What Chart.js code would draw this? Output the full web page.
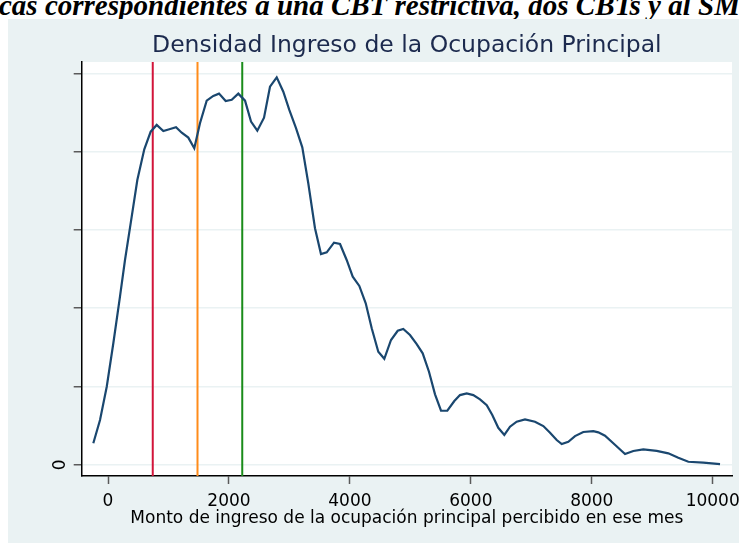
<!DOCTYPE html>
<html>
<head>
<meta charset="utf-8">
<script src="https://cdn.jsdelivr.net/npm/chart.js@4.4.1/dist/chart.umd.min.js"></script>
<style>
  html, body { margin: 0; padding: 0; background: #fff; width: 739px; height: 543px; overflow: hidden; position: relative; }
  #cap { position: absolute; left: -1px; top: -9px; color: #000; white-space: nowrap;
         font: italic bold 29px "Liberation Serif", "Times New Roman", serif; line-height: 29px; }
  #box { position: absolute; left: 8px; top: 19px; width: 731px; height: 524px; background: #eaf2f3; }
</style>
</head>
<body>
<div id="cap">cas correspondientes a una CBT restrictiva, dos CBTs y al SM</div>
<div id="box"><canvas id="c"></canvas></div>
<script>
// ingreso de la ocupacion principal (x) y densidad estimada (en 1e-5)
var ingreso = [-243, -132, -21, 88, 198, 281, 392, 485, 600, 706,
  805, 915, 1014, 1125, 1219, 1328, 1427, 1521, 1632, 1741,
  1836, 1946, 2046, 2155, 2266, 2365, 2469, 2580, 2679, 2790,
  2899, 2998, 3109, 3213, 3312, 3423, 3522, 3617, 3737, 3837,
  3947, 4047, 4156, 4262, 4361, 4470, 4569, 4680, 4791, 4883,
  4994, 5105, 5204, 5308, 5408, 5507, 5611, 5727, 5821, 5932,
  6041, 6152, 6263, 6355, 6454, 6554, 6648, 6758, 6896, 7061,
  7199, 7310, 7420, 7503, 7612, 7723, 7860, 8026, 8108, 8219,
  8356, 8550, 8687, 8852, 9074, 9266, 9431, 9597, 9845, 10121];
var densidad = [1.37, 2.86, 4.98, 7.76, 10.74, 13.08, 15.85, 18.19, 20.15, 21.28,
  21.71, 21.32, 21.43, 21.56, 21.21, 20.90, 20.22, 21.82, 23.26, 23.56,
  23.71, 23.24, 23.32, 23.71, 23.26, 21.92, 21.34, 22.17, 24.15, 24.75,
  23.83, 22.67, 21.50, 20.28, 17.98, 15.11, 13.46, 13.57, 14.19, 14.10,
  13.08, 12.01, 11.42, 10.31, 8.72, 7.22, 6.77, 7.97, 8.56, 8.67,
  8.29, 7.71, 7.12, 5.94, 4.50, 3.45, 3.45, 4.07, 4.45, 4.56,
  4.45, 4.18, 3.81, 3.18, 2.36, 1.90, 2.43, 2.75, 2.90, 2.75,
  2.47, 2.04, 1.58, 1.32, 1.47, 1.83, 2.09, 2.15, 2.07, 1.85,
  1.37, 0.68, 0.88, 0.98, 0.89, 0.73, 0.45, 0.19, 0.13, 0.04];

// lineas verticales: CBT restrictiva, dos CBTs, SM
var lineas = [740, 1480, 2220];
var lineaColores = ["#d2143a", "#ff8c1a", "#1a8c1a"];

var xTicks = [0, 2000, 4000, 6000, 8000, 10000];
var yTicks = [0, 5, 10, 15, 20, 25];
var X_MIN = -435, X_MAX = 10319, Y_MIN = -0.72, Y_MAX = 25.73;

var TITULO = "Densidad Ingreso de la Ocupación Principal";
var X_TITULO = "Monto de ingreso de la ocupación principal percibido en ese mes";

var NAVY = "#1a476f", BG = "#eaf2f3", TICK = "#5a5a5a";

Chart.defaults.font.family = "'DejaVu Sans', sans-serif";
Chart.defaults.color = "#000";

var textos = {
  id: "textos",
  beforeDraw: function (chart) {
    var a = chart.chartArea, ctx = chart.ctx;
    ctx.save();
    ctx.fillStyle = "#fff";
    ctx.fillRect(a.left, a.top, a.right - a.left, a.bottom - a.top);
    ctx.restore();
  },
  afterDraw: function (chart) {
    var a = chart.chartArea, ctx = chart.ctx, cx = (a.left + a.right) / 2;
    ctx.save();
    ctx.textAlign = "center";
    ctx.textBaseline = "alphabetic";
    ctx.fillStyle = "#1c2a4e";
    ctx.font = "23.5px 'DejaVu Sans'";
    ctx.fillText(TITULO, cx, 32.7);
    ctx.fillStyle = "#000";
    ctx.font = "17px 'DejaVu Sans'";
    ctx.fillText(X_TITULO, cx, 504.3);
    ctx.restore();
  }
};

var datasets = lineas.map(function (v, i) {
  return {
    data: [{ x: v, y: Y_MIN }, { x: v, y: Y_MAX }],
    borderColor: lineaColores[i], borderWidth: 2, showLine: true, pointRadius: 0, order: 2
  };
});
datasets.push({
  data: ingreso.map(function (x, i) { return { x: x, y: densidad[i] }; }),
  borderColor: NAVY, borderWidth: 2.2, showLine: true, pointRadius: 0, tension: 0, order: 1
});

new Chart(document.getElementById("c"), {
  type: "scatter",
  data: { datasets: datasets },
  options: {
    responsive: true, maintainAspectRatio: false, animation: false,
    layout: { padding: { left: 0, right: 7, top: 43, bottom: 0 } },
    plugins: { legend: { display: false }, tooltip: { enabled: false }, title: { display: false } },
    scales: {
      x: {
        type: "linear", min: X_MIN, max: X_MAX,
        afterBuildTicks: function (s) { s.ticks = xTicks.map(function (v) { return { value: v }; }); },
        afterFit: function (s) { s.height = 67; s.paddingLeft = 0; s.paddingRight = 0; },
        ticks: { font: { size: 17 }, padding: 7, color: "#000", maxRotation: 0,
          callback: function (v) { return String(v); } },
        grid: { drawOnChartArea: false, drawTicks: true, tickLength: 8, tickColor: TICK, tickWidth: 1.5 },
        border: { display: true, color: "#000", width: 1.5 }
      },
      y: {
        type: "linear", min: Y_MIN, max: Y_MAX,
        afterBuildTicks: function (s) { s.ticks = yTicks.map(function (v) { return { value: v }; }); },
        afterFit: function (s) { s.width = 73.7; },
        ticks: {
          font: { size: 17 }, color: "#000", minRotation: 90, maxRotation: 90, crossAlign: "center", padding: 8,
          callback: function (v) { return v === 0 ? "0" : ""; }
        },
        grid: { color: BG, lineWidth: 1.5, drawTicks: true, tickLength: 8, tickColor: TICK, tickWidth: 1.5 },
        border: { display: true, color: "#000", width: 1.5 }
      }
    }
  },
  plugins: [textos]
});
</script>
</body>
</html>
